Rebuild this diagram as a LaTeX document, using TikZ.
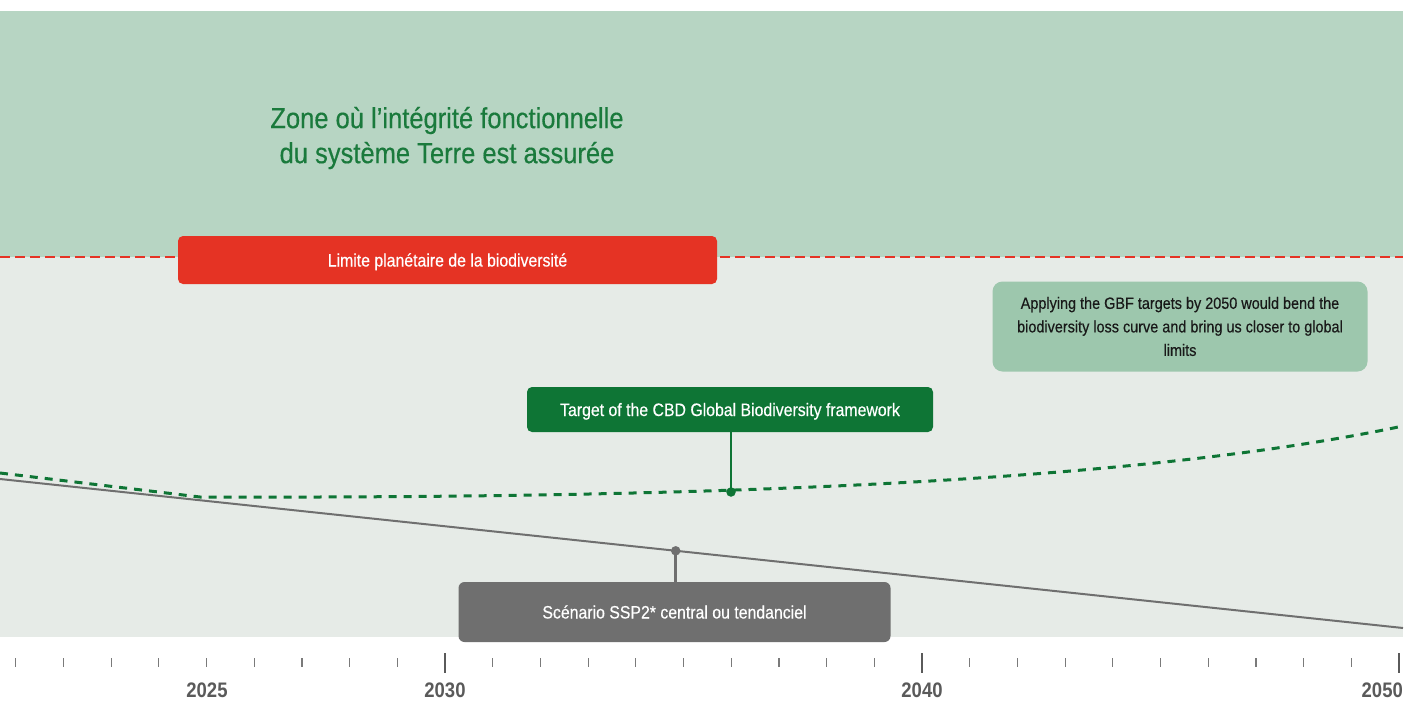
\documentclass[tikz,border=0pt]{standalone}
\usepackage{fontspec}
\setmainfont{Liberation Sans}[FakeStretch=0.88]
\newfontfamily\medfont{Liberation Sans}[FakeStretch=0.88, FakeBold=0.4]
\definecolor{panelgreen}{HTML}{B7D5C3}
\definecolor{panelgrey}{HTML}{E6EBE7}
\definecolor{titlegreen}{HTML}{1A7A3C}
\definecolor{limitred}{HTML}{E53324}
\definecolor{darkgreen}{HTML}{0E7535}
\definecolor{lightgreen}{HTML}{9DC7AD}
\definecolor{scengrey}{HTML}{6F6F6F}
\definecolor{axisgrey}{HTML}{5A5A5A}
\definecolor{tickgrey}{HTML}{7A7A7A}
\begin{document}
\begin{tikzpicture}[x=1pt,y=-1pt,
  labelbox/.style={rounded corners=5pt, inner sep=0pt, text=white, text height=13pt, text depth=0pt, font=\medfont\fontsize{18}{22}\selectfont},
  redline/.style={limitred, line width=2pt, dash pattern=on 10pt off 5pt},
  targetline/.style={darkgreen, line width=3pt, dash pattern=on 8pt off 7pt},
  trendline/.style={scengrey, line width=2pt},
  minortick/.style={tickgrey, line width=1.2pt},
  majortick/.style={axisgrey, line width=2.5pt},
  yearlabel/.style={text=axisgrey, font=\bfseries\fontsize{21}{24}\selectfont, inner sep=0pt},
  dotstyle/.style={circle, inner sep=0pt, minimum size=9.5pt}
]
\useasboundingbox (0,0) rectangle (1411,705);
\fill[white] (0,0) rectangle (1411,705);
\fill[panelgreen] (0,11) rectangle (1403,257);
\fill[panelgrey] (0,257) rectangle (1403,637);

% planetary limit
\draw[redline] (0,257) -- (1403,257);

% title
\node[text=titlegreen, align=center, font=\medfont\fontsize{29}{35}\selectfont, inner sep=0pt] (title) at (447,138)
  {Zone où l’intégrité fonctionnelle\\du système Terre est assurée};

% trend line SSP2
\draw[trendline] (0,479) -- (1403,628);
% GBF target curve
\draw[targetline] (0,473) -- (200,497) .. controls (600,498) and (1100,490) .. (1403,426);

% boxes
\node[labelbox, fill=limitred, minimum width=539pt, minimum height=48pt] (limit) at (447.5,260) {Limite planétaire de la biodiversité};
\node[labelbox, fill=darkgreen, minimum width=406pt, minimum height=45pt] (target) at (730,409.5) {Target of the CBD Global Biodiversity framework};
\node[labelbox, fill=scengrey, rounded corners=6pt, minimum width=432pt, minimum height=60pt] (ssp) at (674.5,612) {Scénario SSP2* central ou tendanciel};
\node[rounded corners=10pt, fill=lightgreen, inner sep=0pt, minimum width=375pt, minimum height=90pt,
  text=black!90, align=center, font=\medfont\fontsize{16.4}{23.5}\selectfont] (gbf) at (1180,326.5)
  {Applying the GBF targets by 2050 would bend the\\biodiversity loss curve and bring us closer to global\\limits};

% dots and stems
\node[dotstyle, fill=darkgreen] (tdot) at (731,492) {};
\draw[darkgreen, line width=2.5pt] (target.south -| tdot) -- (tdot.center);
\node[dotstyle, fill=scengrey] (sdot) at (675.7,550.8) {};
\draw[scengrey, line width=2.5pt] (sdot.center) -- (ssp.north -| sdot);

% axis ticks
\foreach \yr in {2021,...,2050}{
  \pgfmathsetmacro{\xx}{445+(\yr-2030)*47.7}
  \draw[minortick] (\xx,658) -- (\xx,667);
}
\foreach \yr in {2030,2040,2050}{
  \pgfmathsetmacro{\xx}{445+(\yr-2030)*47.7}
  \draw[majortick] (\xx,653) -- (\xx,673);
}
\node[yearlabel] (y2025) at (207,690.5) {2025};
\node[yearlabel] (y2030) at (445,690.5) {2030};
\node[yearlabel] (y2040) at (922,690.5) {2040};
\node[yearlabel, anchor=east] (y2050) at (1403,690.5) {2050};
\end{tikzpicture}
\end{document}
